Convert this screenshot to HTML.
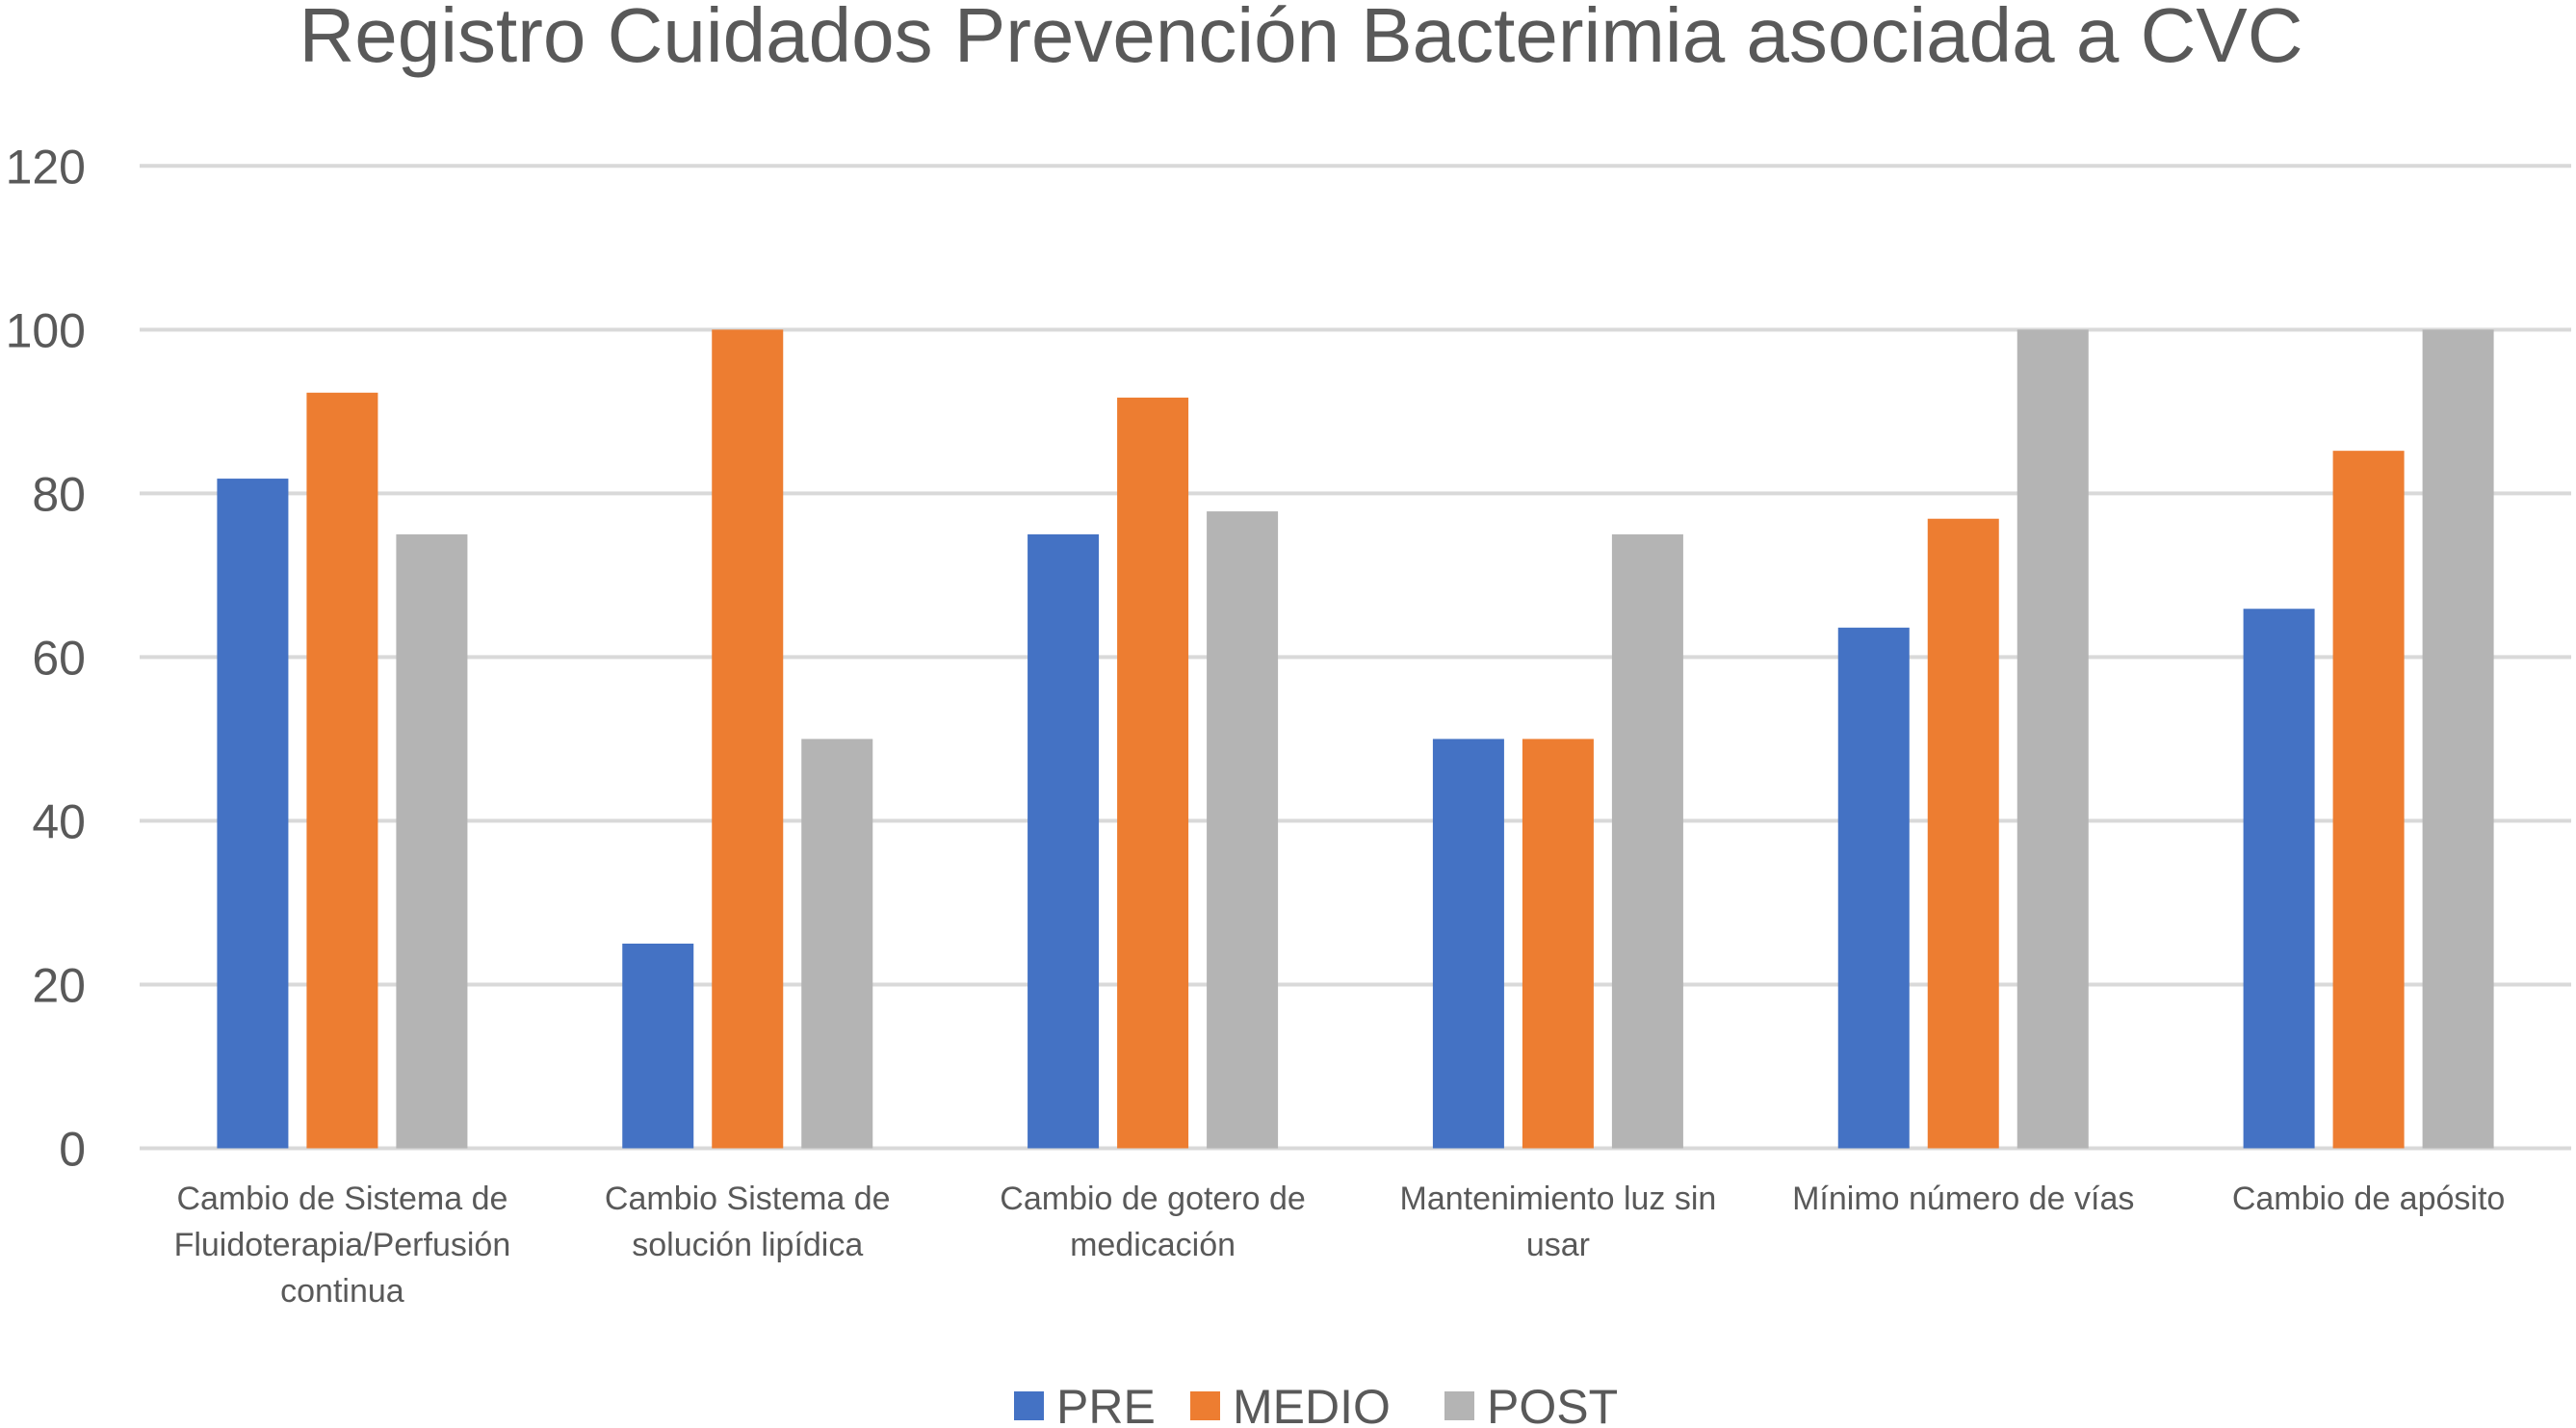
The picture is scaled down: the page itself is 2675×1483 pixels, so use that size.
<!DOCTYPE html>
<html><head><meta charset="utf-8"><style>
html,body{margin:0;padding:0;background:#fff;}
svg{display:block;font-family:"Liberation Sans",sans-serif;}
</style></head><body>
<svg id="chart" width="2675" height="1483" viewBox="0 0 2675 1483">
<text x="1351" y="64" text-anchor="middle" font-size="80" fill="#595959">Registro Cuidados Prevención Bacterimia asociada a CVC</text>
<g id="grid"></g>
<g id="bars"></g>
<g id="xlabels"></g>
<g id="legend"></g>
</svg>
<script>
const categories=[["Cambio de Sistema de","Fluidoterapia/Perfusión","continua"],["Cambio Sistema de","solución lipídica"],["Cambio de gotero de","medicación"],["Mantenimiento luz sin","usar"],["Mínimo número de vías"],["Cambio de apósito"]];
const seriesNames=["PRE","MEDIO","POST"];
const pre=[81.8,25,75,50,63.6,65.9];
const medio=[92.3,100,91.7,50,76.9,85.2];
const post=[75,50,77.8,75,100,100];
const ticks=[0,20,40,60,80,100,120];
const colors=["#4472C4","#ED7D31","#B4B4B4"];
const NS="http://www.w3.org/2000/svg";
const x0=145,x1=2670,yBase=1192.5,yTop=172.3,vMax=120;
const yS=v=>yBase-(yBase-yTop)*v/vMax;
const bw=(x1-x0)/categories.length;
const barW=74,gap=19;
function mk(t,a,p){const e=document.createElementNS(NS,t);for(const k in a)e.setAttribute(k,a[k]);p.appendChild(e);return e;}
const grid=document.getElementById('grid');
ticks.forEach(t=>{
 const l=mk('line',{x1:x0,x2:x1,y1:yS(t),y2:yS(t),stroke:'#D9D9D9','stroke-width':4},grid);
 
 
 const tx=mk('text',{x:89,y:yS(t)+18,'text-anchor':'end','font-size':50,fill:'#595959'},grid);
 tx.textContent=t;
 
 
});
const bars=document.getElementById('bars');
const all=[pre,medio,post];
categories.forEach((c,i)=>{
 const cx=x0+bw*(i+0.5);
 all.forEach((s,j)=>{
  const bx=cx+(j-1)*(barW+gap)-barW/2;
  const r=mk('rect',{x:bx,y:yS(s[i]),width:barW,height:yBase-yS(s[i]),fill:colors[j]},bars);
  
  
 });
 const xl=document.getElementById('xlabels');
 c.forEach((line,k)=>{
  const t=mk('text',{x:cx,y:1256+k*48,'text-anchor':'middle','font-size':34,fill:'#595959'},xl);
  t.textContent=line;
  
  
 });
});
const lg=document.getElementById('legend');
const lx=[1053,1236,1500];
seriesNames.forEach((n,j)=>{
 const r=mk('rect',{x:lx[j],y:1445,width:31,height:30,fill:colors[j]},lg);
 
 
 const t=mk('text',{x:lx[j]+44,y:1478,'font-size':50,fill:'#595959'},lg);
 t.textContent=n;
 
 
});
</script>
</body></html>
